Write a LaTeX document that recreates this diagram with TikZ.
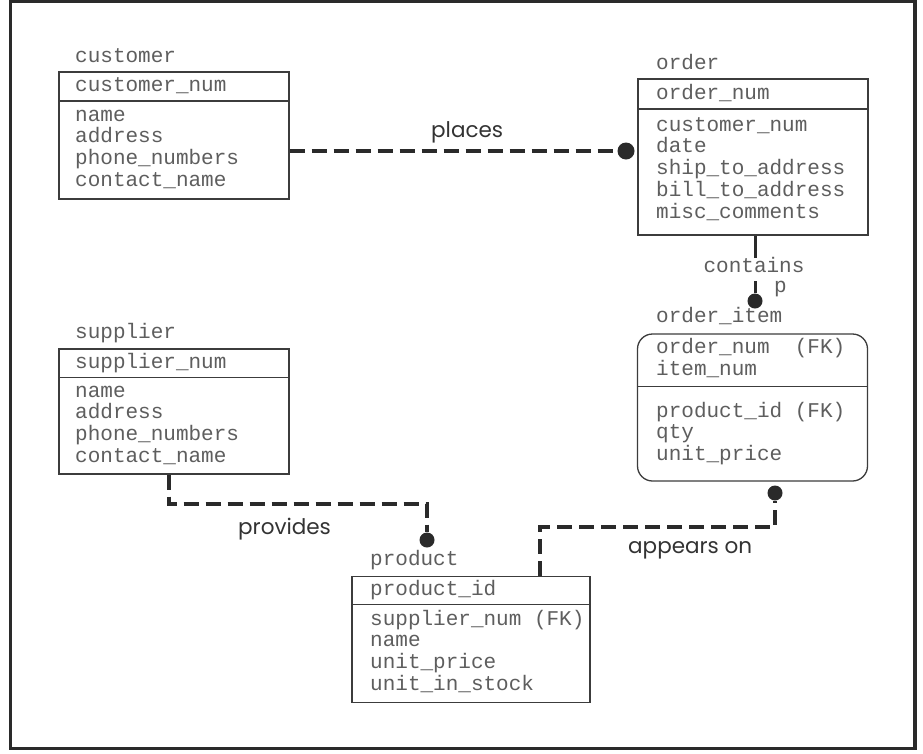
\documentclass[tikz,border=0pt]{standalone}
\usepackage{fontspec}
\setmonofont{Liberation Mono}
\newfontfamily\labfont{Poppins}
\usetikzlibrary{calc}
\definecolor{linec}{HTML}{3C3C3C}
\definecolor{textc}{HTML}{5E5E5E}
\definecolor{relc}{HTML}{2A2A2A}
\definecolor{labc}{HTML}{333333}
\tikzset{
  tbl/.style={draw=linec, line width=1.3pt, inner sep=0pt},
  divider/.style={draw=linec, line width=1.3pt},
  mono/.style={font=\ttfamily\fontsize{21}{22}\selectfont, text=textc, inner sep=0pt, anchor=base west},
  rlabel/.style={font=\labfont\fontsize{21.5}{24}\selectfont, text=labc, inner sep=0pt, anchor=base west},
  rel/.style={draw=relc, line width=4.2pt, dash pattern=on 15pt off 7pt, line join=miter},
  solidrel/.style={draw=relc, line width=3pt},
  enddot/.style={circle, fill=relc, inner sep=0pt, minimum size=16pt},
  frame/.style={draw=relc, line width=3.5pt}
}
\begin{document}
\begin{tikzpicture}[x=1pt, y=-1pt]
\useasboundingbox (0,0) rectangle (923,753);
\fill[white] (0,0) rectangle (923,753);
\draw[frame] (10.5,1.5) rectangle (915,748.5);

% customer
\node[tbl, minimum width=230pt, minimum height=127pt] (customer) at (174,135.5) {};
\draw[divider] (customer.west |- 0,101) -- (customer.east |- 0,101);
\node[mono] (customer-lbl) at (75,62) {customer};
\node[mono] (customer-key) at (75,91) {customer\_num};
\foreach \t [count=\i] in {name,address,phone\_numbers,contact\_name}
  \node[mono] (customer-a\i) at (75,{121+(\i-1)*21.9}) {\t};

% order
\node[tbl, minimum width=230pt, minimum height=156pt] (order) at (753,157) {};
\draw[divider] (order.west |- 0,109) -- (order.east |- 0,109);
\node[mono] (order-lbl) at (656,69) {order};
\node[mono] (order-key) at (656,99) {order\_num};
\foreach \t [count=\i] in {customer\_num,date,ship\_to\_address,bill\_to\_address,misc\_comments}
  \node[mono] (order-a\i) at (656,{131+(\i-1)*21.9}) {\t};

% order_item
\node[tbl, rounded corners=15pt, minimum width=230pt, minimum height=147pt] (orderitem) at (752.5,407.5) {};
\draw[divider] (orderitem.west |- 0,386.5) -- (orderitem.east |- 0,386.5);
\node[mono] (orderitem-lbl) at (656,322) {order\_item};
\node[mono] (orderitem-k1) at (656,353) {order\_num~~(FK)};
\node[mono] (orderitem-k2) at (656,375) {item\_num};
\foreach \t [count=\i] in {product\_id~(FK),qty,unit\_price}
  \node[mono] (orderitem-a\i) at (656,{417+(\i-1)*21.9}) {\t};

% supplier
\node[tbl, minimum width=230pt, minimum height=125pt] (supplier) at (174,411.5) {};
\draw[divider] (supplier.west |- 0,377.5) -- (supplier.east |- 0,377.5);
\node[mono] (supplier-lbl) at (75,338) {supplier};
\node[mono] (supplier-key) at (75,368) {supplier\_num};
\foreach \t [count=\i] in {name,address,phone\_numbers,contact\_name}
  \node[mono] (supplier-a\i) at (75,{397+(\i-1)*21.9}) {\t};

% product
\node[tbl, minimum width=238pt, minimum height=126pt] (product) at (471,639.5) {};
\draw[divider] (product.west |- 0,604.5) -- (product.east |- 0,604.5);
\node[mono] (product-lbl) at (370,565) {product};
\node[mono] (product-key) at (370,595) {product\_id};
\foreach \t [count=\i] in {supplier\_num~(FK),name,unit\_price,unit\_in\_stock}
  \node[mono] (product-a\i) at (370,{625+(\i-1)*21.7}) {\t};

% places
\node[enddot, minimum size=17pt] (placesdot) at (626,151) {};
\draw[rel] (customer.east |- placesdot) -- (placesdot);
\node[rlabel] (placeslbl) at (431,137) {places};

% contains
\node[enddot, minimum size=15pt] (containsdot) at (755,301) {};
\draw[solidrel] (order.south -| containsdot) -- ++(0,22);
\draw[solidrel] (containsdot) -- ++(0,-20);
\node[mono, anchor=base] (containslbl) at (754,272) {contains};
\node[mono] (plbl) at (774,292) {p};

% provides
\node[enddot, minimum size=15pt] (providesdot) at (427,540) {};
\coordinate (pv1) at (169,504);
\coordinate (pv2) at (427,504);
\draw[rel] (supplier.south -| pv1) -- (pv1) -- (pv2) -- (providesdot);
\node[rlabel] (provideslbl) at (238,534) {provides};

% appears on
\node[enddot, minimum size=15pt] (appearsdot) at (775,493) {};
\coordinate (ap1) at (540,527);
\coordinate (ap2) at (775,527);
\draw[rel] (product.north -| ap1) -- (ap1) -- (ap2) -- (appearsdot);
\node[rlabel] (appearslbl) at (628,553) {appears on};
\end{tikzpicture}
\end{document}
